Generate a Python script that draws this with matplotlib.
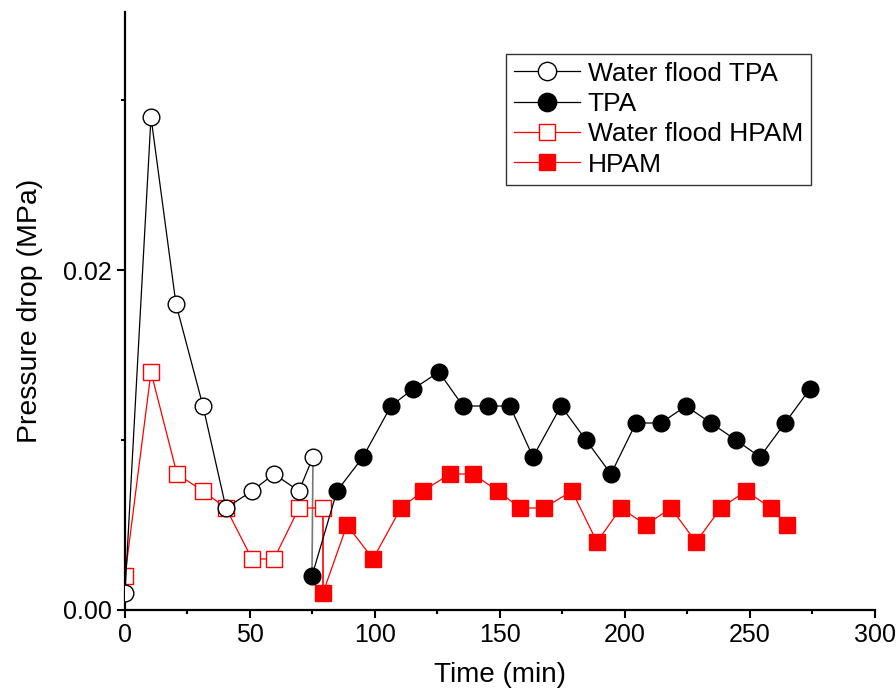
import matplotlib.pyplot as plt
from matplotlib.ticker import FixedLocator, FuncFormatter, NullFormatter

plt.rcParams['font.family'] = ['Liberation Sans', 'DejaVu Sans']

# water flood before TPA
wf_tpa_t = [0, 10.4, 20.4, 31.2, 40.4, 50.8, 59.6, 69.6, 75.2]
wf_tpa_p = [0.001, 0.029, 0.018, 0.012, 0.006, 0.007, 0.008, 0.007, 0.009]

# TPA
tpa_t = [74.8, 84.8, 95.2, 106.4, 115.2, 125.6, 135.2, 145.2, 154, 163.2, 174.4,
         184.4, 194.4, 204.4, 214.4, 224.4, 234.4, 244.4, 254, 264, 274]
tpa_p = [0.002, 0.007, 0.009, 0.012, 0.013, 0.014, 0.012, 0.012, 0.012, 0.009, 0.012,
         0.010, 0.008, 0.011, 0.011, 0.012, 0.011, 0.010, 0.009, 0.011, 0.013]

# water flood before HPAM
wf_hpam_t = [0, 10.4, 20.8, 31.2, 40.4, 50.8, 59.6, 69.6, 79.2]
wf_hpam_p = [0.002, 0.014, 0.008, 0.007, 0.006, 0.003, 0.003, 0.006, 0.006]

# HPAM
hpam_t = [79.2, 88.8, 99.2, 110.4, 119.2, 130, 139.2, 149.2, 158, 167.6, 178.8,
          188.8, 198.4, 208.4, 218.4, 228.4, 238.4, 248.4, 258.4, 264.8]
hpam_p = [0.001, 0.005, 0.003, 0.006, 0.007, 0.008, 0.008, 0.007, 0.006, 0.006, 0.007,
          0.004, 0.006, 0.005, 0.006, 0.004, 0.006, 0.007, 0.006, 0.005]

fig = plt.figure(figsize=(8.96, 6.9), dpi=100)
ax = fig.add_axes([0.1395, 0.116, 0.837, 0.867])

# joins between the water flood and the polymer runs
ax.plot([wf_tpa_t[-1], tpa_t[0]], [wf_tpa_p[-1], tpa_p[0]], color='#777777', lw=1.2, zorder=1)
ax.plot([wf_hpam_t[-1], hpam_t[0]], [wf_hpam_p[-1], hpam_p[0]], color='red', lw=1.2, zorder=1)

ax.plot(wf_tpa_t, wf_tpa_p, '-o', color='black', lw=0.9, ms=12, mfc='white', mec='black',
        mew=1.0, label='Water flood TPA', zorder=3)
ax.plot(tpa_t, tpa_p, '-o', color='black', lw=0.9, ms=12, mfc='black', mec='black',
        label='TPA', zorder=3)
ax.plot(wf_hpam_t, wf_hpam_p, '-s', color='red', lw=0.9, ms=11, mfc='white', mec='red',
        mew=1.0, label='Water flood HPAM', zorder=2)
ax.plot(hpam_t, hpam_p, '-s', color='red', lw=0.9, ms=11, mfc='red', mec='red',
        label='HPAM', zorder=2)

ax.set_xlim(0, 300)
ax.set_ylim(0, 0.0352)

ax.xaxis.set_major_locator(FixedLocator(list(range(0, 301, 50))))
ax.xaxis.set_minor_locator(FixedLocator(list(range(25, 300, 50))))
ax.yaxis.set_major_locator(FixedLocator([0, 0.02]))
ax.yaxis.set_minor_locator(FixedLocator([0.01, 0.03]))
ax.yaxis.set_major_formatter(FuncFormatter(lambda v, p: '%.2f' % v))
ax.xaxis.set_minor_formatter(NullFormatter())
ax.yaxis.set_minor_formatter(NullFormatter())

for s in ['top', 'right']:
    ax.spines[s].set_visible(False)
for s in ['left', 'bottom']:
    ax.spines[s].set_linewidth(1.6)
ax.tick_params(which='major', direction='out', length=6, width=1.5, labelsize=18)
ax.tick_params(which='minor', direction='out', length=3, width=1.5)

ax.set_xlabel('Time (min)', fontsize=20, labelpad=11)
ax.set_ylabel('Pressure drop (MPa)', fontsize=20.5, labelpad=14)

leg = ax.legend(loc='upper right', bbox_to_anchor=(0.9147, 0.9298), fontsize=19, frameon=True,
                fancybox=False, edgecolor='black', handlelength=2.5, handletextpad=0.3,
                borderpad=0.3, labelspacing=0.24, borderaxespad=0, markerscale=1.1)
leg.get_frame().set_linewidth(1.0)

fig.savefig('out.png', dpi=100)
